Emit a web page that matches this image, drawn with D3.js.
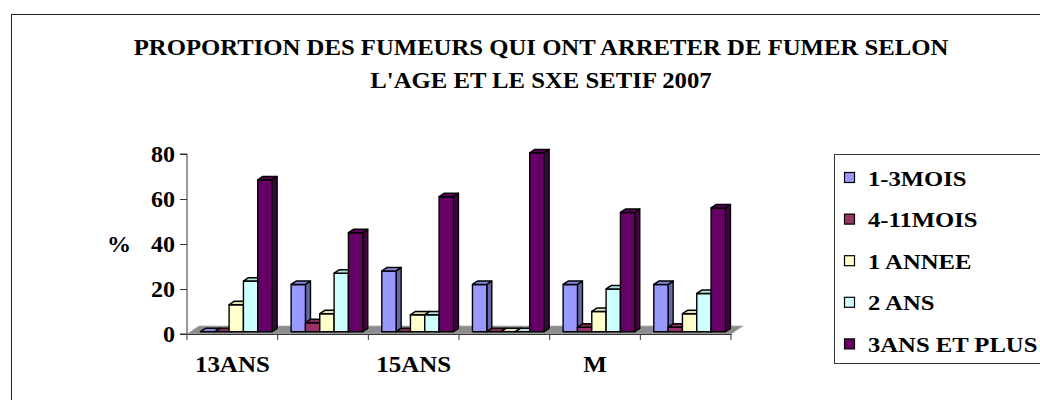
<!DOCTYPE html>
<html>
<head>
<meta charset="utf-8">
<script src="https://cdn.jsdelivr.net/npm/d3@7"></script>
<style>
  body { margin: 0; background: #fff; }
  svg { display: block; font-family: "Liberation Serif", "Times New Roman", serif; font-weight: bold; }
</style>
</head>
<body>
<div id="chart"></div>
<script>
// data
const categories = ["13ANS", "14ANS", "15ANS", "16ANS", "M", "F"];
const seriesNames = ["1-3MOIS", "4-11MOIS", "1 ANNEE", "2 ANS", "3ANS ET PLUS"];
const mois1to3 = [0, 21, 27, 21, 21, 21];
const mois4to11 = [0, 4, 0, 0, 2, 2];
const annee1 = [12, 8, 7.5, 0, 9, 8];
const ans2 = [22.5, 26, 7.5, 0, 19, 17];
const ans3plus = [67.5, 44, 60, 79.5, 53, 55];
const yTicks = [0, 20, 40, 60, 80];
const titleLines = ["PROPORTION DES FUMEURS QUI ONT ARRETER DE FUMER SELON",
                    "L'AGE ET LE SXE SETIF 2007"];

const seriesValues = [mois1to3, mois4to11, annee1, ans2, ans3plus];
const colors = ["#9999ff", "#993366", "#ffffcc", "#ccffff", "#660066"];

const W = 1040, H = 400;
const svg = d3.select("#chart").append("svg")
    .attr("width", W).attr("height", H);

// outer chart border (runs off the right/bottom edge)
svg.append("rect")
    .attr("x", 11.5).attr("y", 14.5)
    .attr("width", W + 20).attr("height", H + 20)
    .attr("fill", "none").attr("stroke", "#222").attr("stroke-width", 1);

// title
titleLines.forEach((t, i) => {
    const txt = svg.append("text")
        .attr("x", 541).attr("y", 55 + i * 33)
        .attr("text-anchor", "middle")
        .attr("font-size", 24)
        .text(t);
    const len = txt.node().getComputedTextLength();
    txt.attr("textLength", len * 1.03).attr("lengthAdjust", "spacingAndGlyphs");
});

// plot area
const left = 187, right = 731, y0 = 334, yTop = 154;
const depth = { dx: 12, dy: -8 };   // 3D floor depth

const x0 = d3.scaleBand().domain(categories).range([left, right]);
const x1 = d3.scaleBand().domain(seriesNames)
    .range([x0.bandwidth() * 0.11, x0.bandwidth() * 0.90]);
const y = d3.scaleLinear().domain([0, 80]).range([y0, yTop]);

// floor
svg.append("path")
    .attr("d", d3.line()([
        [left, y0], [left + depth.dx, y0 + depth.dy],
        [right + depth.dx, y0 + depth.dy], [right, y0]
    ]) + "Z")
    .attr("fill", "#8c8c8c")
    .attr("stroke", "#b0b0b0").attr("stroke-width", 0.8);

// bars (front plane offset + bar depth)
const fOff = 0.29, bDep = 0.42;
const fx = depth.dx * fOff, fy = depth.dy * fOff;
const bx = depth.dx * bDep, by = depth.dy * bDep;

const bars = [];
categories.forEach((c, ci) => {
    seriesNames.forEach((s, si) => {
        bars.push({ c, s, si, v: seriesValues[si][ci] });
    });
});

const g = svg.append("g")
    .attr("stroke", "#000").attr("stroke-width", 1.4)
    .attr("stroke-linejoin", "round");

bars.forEach(d => {
    const xl = x0(d.c) + x1(d.s) + fx;
    const xr = xl + x1.bandwidth();
    const yb = y(0) + fy;
    const yt = y(d.v) + fy;
    const col = d3.color(colors[d.si]);
    // side
    g.append("path")
        .attr("d", d3.line()([[xr, yb], [xr + bx, yb + by], [xr + bx, yt + by], [xr, yt]]) + "Z")
        .attr("fill", col.darker(1.1));
    // front
    g.append("rect")
        .attr("x", xl).attr("y", yt)
        .attr("width", xr - xl).attr("height", yb - yt)
        .attr("fill", col);
    // top
    g.append("path")
        .attr("d", d3.line()([[xl, yt], [xl + bx, yt + by], [xr + bx, yt + by], [xr, yt]]) + "Z")
        .attr("fill", col.darker(0.35));
});

// y axis
const yAxis = svg.append("g")
    .attr("transform", `translate(${left},0)`)
    .call(d3.axisLeft(y).tickValues(yTicks).tickSize(7).tickPadding(5));
yAxis.select(".domain").attr("d", `M-7,${yTop}H0V${y0}H-7`).attr("stroke", "#333");
yAxis.selectAll(".tick line").attr("stroke", "#333");
yAxis.selectAll("text")
    .attr("font-family", "Liberation Serif, serif")
    .attr("font-weight", "bold")
    .attr("font-size", 24)
    .attr("fill", "#000");

svg.append("text")
    .attr("x", 119).attr("y", 252)
    .attr("text-anchor", "middle")
    .attr("font-size", 24)
    .text("%");

// x axis: labels on every other group, ticks at group boundaries
const xAxis = svg.append("g")
    .attr("transform", `translate(0,${y0})`)
    .call(d3.axisBottom(x0).tickSize(0).tickPadding(21)
        .tickFormat((d, i) => i % 2 === 0 ? d : ""));
xAxis.select(".domain").attr("stroke", "#333");
xAxis.selectAll("text")
    .attr("font-family", "Liberation Serif, serif")
    .attr("font-weight", "bold")
    .attr("font-size", 24)
    .attr("fill", "#000")
    .each(function () {
        const len = this.getComputedTextLength();
        if (len > 0) d3.select(this).attr("textLength", len * 1.04).attr("lengthAdjust", "spacingAndGlyphs");
    });

const bounds = categories.map(c => x0(c)).concat([x0.range()[1]]);
xAxis.selectAll(".bound")
    .data(bounds)
    .enter().append("line")
    .attr("class", "bound")
    .attr("x1", d => d).attr("x2", d => d)
    .attr("y1", 0).attr("y2", 6)
    .attr("stroke", "#333");

// legend
const legend = svg.append("g").attr("transform", "translate(834,154)");
legend.append("rect")
    .attr("x", 0.5).attr("y", 0.5)
    .attr("width", 260).attr("height", 209)
    .attr("fill", "#fff").attr("stroke", "#333").attr("stroke-width", 1);

seriesNames.forEach((s, i) => {
    const cy = 24 + i * 41.6;
    legend.append("rect")
        .attr("x", 10.5).attr("y", cy - 5.5)
        .attr("width", 10).attr("height", 10)
        .attr("fill", colors[i]).attr("stroke", "#000").attr("stroke-width", 1.2);
    const t = legend.append("text")
        .attr("x", 34).attr("y", cy + 7.5)
        .attr("font-size", 22)
        .text(s);
    const len = t.node().getComputedTextLength();
    t.attr("textLength", len * 1.12).attr("lengthAdjust", "spacingAndGlyphs");
});
</script>
</body>
</html>
